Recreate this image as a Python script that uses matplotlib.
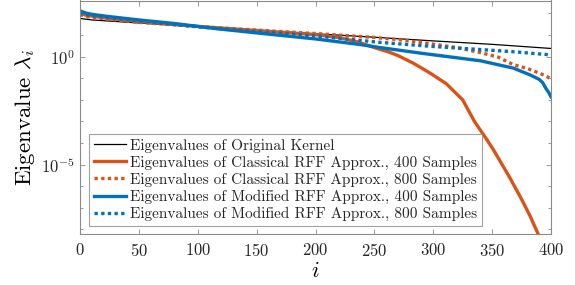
import numpy as np
import matplotlib
matplotlib.use("Agg")
import matplotlib.pyplot as plt
from matplotlib.ticker import NullFormatter, FixedLocator, FixedFormatter

plt.rcParams['font.family'] = ['cmr10', 'DejaVu Serif']
plt.rcParams['mathtext.fontset'] = 'cm'
plt.rcParams['axes.formatter.use_mathtext'] = True

# ---- data (log10 of eigenvalue) ----
orig_i = [0, 10, 50, 115, 200, 250, 300, 350, 400]
orig_log10 = [1.77, 1.70, 1.56, 1.32, 1.06, 0.90, 0.73, 0.57, 0.38]

cls400_i = [0, 5, 20, 50, 100, 150, 200, 220, 235, 250, 262, 270, 283, 297, 311,
            325, 335, 345, 351, 358, 365, 375, 382, 389, 395]
cls400_log10 = [2.02, 1.92, 1.80, 1.63, 1.40, 1.21, 1.02, 0.88, 0.70, 0.42, 0.22,
                0.05, -0.30, -0.75, -1.25, -2.00, -3.00, -3.80, -4.30, -4.95,
                -5.60, -6.60, -7.35, -8.20, -8.90]

cls800_i = [0, 5, 20, 50, 115, 200, 250, 270, 291, 320, 340, 355, 368, 380, 389, 395, 400]
cls800_log10 = [1.95, 1.86, 1.76, 1.59, 1.34, 1.07, 0.89, 0.79, 0.65, 0.42, 0.19,
                -0.02, -0.37, -0.55, -0.74, -0.88, -1.02]

mod400_i = [0, 5, 10, 24, 50, 81, 115, 150, 200, 238, 255, 291, 340, 368, 382,
            390, 393, 396, 398, 400]
mod400_log10 = [2.12, 2.02, 1.96, 1.86, 1.70, 1.53, 1.30, 1.10, 0.82, 0.56, 0.42,
                0.15, -0.19, -0.53, -0.84, -1.05, -1.21, -1.50, -1.65, -1.86]

mod800_i = [0, 5, 10, 50, 100, 150, 200, 255, 300, 340, 370, 400]
mod800_log10 = [2.05, 1.96, 1.90, 1.66, 1.38, 1.16, 0.96, 0.66, 0.47, 0.33, 0.22, 0.08]

labels = ["Eigenvalues of Original Kernel",
          "Eigenvalues of Classical RFF Approx., 400 Samples",
          "Eigenvalues of Classical RFF Approx., 800 Samples",
          "Eigenvalues of Modified RFF Approx., 400 Samples",
          "Eigenvalues of Modified RFF Approx., 800 Samples"]

orange = '#D95319'
blue = '#0072BD'

fig = plt.figure(figsize=(5.75, 2.85), dpi=100)
ax = fig.add_axes([80/575, 1-234/285, 471/575, 233.5/285])

lw = 2.4
ax.plot(orig_i, 10**np.array(orig_log10), color='black', lw=0.9, label=labels[0])
ax.plot(cls400_i, 10**np.array(cls400_log10), color=orange, lw=lw, label=labels[1])
ax.plot(cls800_i, 10**np.array(cls800_log10), color=orange, lw=lw, dashes=(1, 1),
        dash_capstyle='butt', label=labels[2])
ax.plot(mod400_i, 10**np.array(mod400_log10), color=blue, lw=lw, label=labels[3])
ax.plot(mod800_i, 10**np.array(mod800_log10), color=blue, lw=lw, dashes=(1, 1),
        dash_capstyle='butt', label=labels[4])

ax.set_yscale('log')
ax.set_xlim(0, 400)
ax.set_ylim(10**-8.21, 10**2.60)
ax.set_xticks(np.arange(0, 401, 50))
ax.yaxis.set_major_locator(FixedLocator([1e-5, 1e0]))
ax.yaxis.set_major_formatter(FixedFormatter([r'$10^{-5}$', r'$10^{0}$']))
ax.yaxis.set_minor_locator(FixedLocator([10.0**k for k in range(-8, 3)]))
ax.yaxis.set_minor_formatter(NullFormatter())

spc = '#8a8a8a'
for s in ax.spines.values():
    s.set_color(spc)
    s.set_linewidth(0.8)
ax.tick_params(which='both', direction='in', top=True, right=True, color=spc,
               labelsize=12, labelcolor='#262626')
ax.tick_params(which='major', length=3.5, width=0.6)
ax.tick_params(which='minor', length=2.5, width=0.6)
ax.tick_params(axis='x', pad=6)

ax.set_xlabel(r'$i$', fontsize=16, labelpad=1)
ax.set_ylabel(r'Eigenvalue $\lambda_i$', fontsize=16.5, labelpad=3)

leg = ax.legend(loc='lower left', bbox_to_anchor=(0.019, 0.034), borderaxespad=0,
                fontsize=11, frameon=True, fancybox=False, handlelength=2.1,
                handletextpad=0.3, labelspacing=0.2, borderpad=0.3)
leg.get_frame().set_edgecolor(spc)
leg.get_frame().set_linewidth(0.8)
for t in leg.get_texts():
    t.set_color('#262626')

fig.savefig('out.png', dpi=100)
